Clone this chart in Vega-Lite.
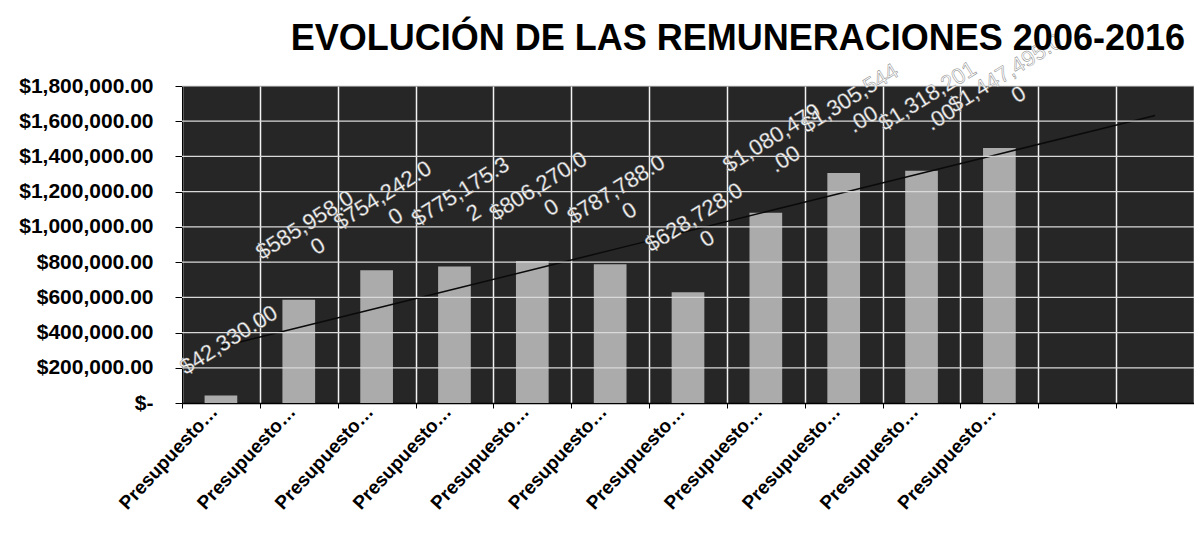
{
  "$schema": "https://vega.github.io/schema/vega-lite/v6.json",
  "width": 1012,
  "height": 317,
  "autosize": {"type": "none"},
  "padding": {"left": 182, "top": 86, "right": 0, "bottom": 139},
  "background": "white",
  "config": {
    "view": {"fill": "#262626", "stroke": null},
    "font": "Liberation Sans",
    "axisY": {
      "title": null,
      "tickCount": 9,
      "grid": false,
      "domainColor": "black",
      "tickColor": "black",
      "tickSize": 7,
      "labelPadding": 22,
      "labelFont": "Liberation Sans",
      "labelFontWeight": "bold",
      "labelFontSize": 21,
      "labelColor": "black",
      "labelOverlap": false,
      "labelExpr": "datum.value == 0 ? '$-' : '$' + format(datum.value, ',.2f')"
    }
  },
  "title": {
    "text": "EVOLUCIÓN DE LAS REMUNERACIONES 2006-2016",
    "anchor": "end",
    "frame": "group",
    "fontSize": 36,
    "fontWeight": "bold",
    "font": "Liberation Sans",
    "color": "black",
    "offset": -56,
    "baseline": "alphabetic",
    "dx": -9
  },
  "datasets": {
    "rem": [
      {"cat": "Presupuesto 2006", "value": 42330.00, "label": "$42,330.00", "trend": 319211},
      {"cat": "Presupuesto 2007", "value": 585958.00, "label": "$585,958.0\n0", "trend": 428682},
      {"cat": "Presupuesto 2008", "value": 754242.00, "label": "$754,242.0\n0", "trend": 538153},
      {"cat": "Presupuesto 2009", "value": 775175.32, "label": "$775,175.3\n2", "trend": 647623},
      {"cat": "Presupuesto 2010", "value": 806270.00, "label": "$806,270.0\n0", "trend": 757094},
      {"cat": "Presupuesto 2011", "value": 787788.00, "label": "$787,788.0\n0", "trend": 866565},
      {"cat": "Presupuesto 2012", "value": 628728.00, "label": "$628,728.0\n0", "trend": 976035},
      {"cat": "Presupuesto 2013", "value": 1080479.00, "label": "$1,080,479\n.00", "trend": 1085506},
      {"cat": "Presupuesto 2014", "value": 1305544.00, "label": "$1,305,544\n.00", "trend": 1194976},
      {"cat": "Presupuesto 2015", "value": 1318201.00, "label": "$1,318,201\n.00", "trend": 1304447},
      {"cat": "Presupuesto 2016", "value": 1447495.00, "label": "$1,447,495.0\n0", "trend": 1413917},
      {"cat": "vacío 1", "value": null, "label": null, "trend": 1523388},
      {"cat": "vacío 2", "value": null, "label": null, "trend": 1632859}
    ],
    "gridlines": [
      {"g": 200000}, {"g": 400000}, {"g": 600000}, {"g": 800000}, {"g": 1000000},
      {"g": 1200000}, {"g": 1400000}, {"g": 1600000}, {"g": 1800000}
    ]
  },
  "layer": [
    {
      "data": {"name": "rem"},
      "mark": {"type": "bar", "color": "#ababab", "width": {"band": 0.42}},
      "encoding": {
        "x": {
          "field": "cat", "type": "nominal", "sort": null,
          "scale": {"paddingInner": 0, "paddingOuter": 0},
          "axis": {
            "title": null, "tickBand": "extent", "grid": true, "gridColor": "#f2f2f2", "gridWidth": 1.5,
            "domainColor": "black", "domainWidth": 1.5, "tickColor": "black", "tickSize": 5,
            "labelAngle": -47, "labelAlign": "right", "labelBaseline": "middle", "labelPadding": 0, "labelOffset": -7,
            "labelFont": "Liberation Sans", "labelFontWeight": "bold", "labelFontSize": 19, "labelColor": "black",
            "labelExpr": "isString(datum.value) && indexof(datum.value, 'Presupuesto') == 0 ? 'Presupuesto…' : ''"
          }
        },
        "y": {"field": "value", "type": "quantitative", "title": null, "scale": {"domain": [0, 1800000], "nice": false}}
      }
    },
    {
      "data": {"name": "rem"},
      "mark": {"type": "line", "color": "#0a0a0a", "strokeWidth": 1.5},
      "encoding": {
        "x": {
          "field": "cat", "type": "nominal", "sort": null,
          "axis": {
            "title": null, "tickBand": "extent", "grid": true, "gridColor": "#f2f2f2", "gridWidth": 1.5,
            "domainColor": "black", "domainWidth": 1.5, "tickColor": "black", "tickSize": 5,
            "labelAngle": -47, "labelAlign": "right", "labelBaseline": "middle", "labelPadding": 0, "labelOffset": -7,
            "labelFont": "Liberation Sans", "labelFontWeight": "bold", "labelFontSize": 19, "labelColor": "black",
            "labelExpr": "isString(datum.value) && indexof(datum.value, 'Presupuesto') == 0 ? 'Presupuesto…' : ''"
          }
        },
        "y": {"field": "trend", "type": "quantitative", "title": null}
      }
    },
    {
      "data": {"name": "rem"},
      "transform": [{"filter": "isString(datum.label) && indexof(datum.label, '\\n') < 0"}],
      "mark": {
        "type": "text", "color": "white", "stroke": "#8a8a8a", "strokeWidth": 0.5,
        "font": "Liberation Sans", "fontSize": 22, "angle": 328, "align": "center", "baseline": "middle",
        "radius": 56, "theta": 0.14
      },
      "encoding": {
        "x": {
          "field": "cat", "type": "nominal", "sort": null,
          "axis": {
            "title": null, "tickBand": "extent", "grid": true, "gridColor": "#f2f2f2", "gridWidth": 1.5,
            "domainColor": "black", "domainWidth": 1.5, "tickColor": "black", "tickSize": 5,
            "labelAngle": -47, "labelAlign": "right", "labelBaseline": "middle", "labelPadding": 0, "labelOffset": -7,
            "labelFont": "Liberation Sans", "labelFontWeight": "bold", "labelFontSize": 19, "labelColor": "black",
            "labelExpr": "isString(datum.value) && indexof(datum.value, 'Presupuesto') == 0 ? 'Presupuesto…' : ''"
          }
        },
        "y": {"field": "value", "type": "quantitative", "title": null},
        "text": {"field": "label"}
      }
    },
    {
      "data": {"name": "rem"},
      "transform": [{"filter": "isString(datum.label) && indexof(datum.label, '\\n') >= 0"}],
      "mark": {
        "type": "text", "color": "white", "stroke": "#8a8a8a", "strokeWidth": 0.5,
        "font": "Liberation Sans", "fontSize": 22, "angle": 328, "align": "center", "baseline": "middle",
        "lineBreak": "\n", "lineHeight": 25, "radius": 75, "theta": 0.08
      },
      "encoding": {
        "x": {
          "field": "cat", "type": "nominal", "sort": null,
          "axis": {
            "title": null, "tickBand": "extent", "grid": true, "gridColor": "#f2f2f2", "gridWidth": 1.5,
            "domainColor": "black", "domainWidth": 1.5, "tickColor": "black", "tickSize": 5,
            "labelAngle": -47, "labelAlign": "right", "labelBaseline": "middle", "labelPadding": 0, "labelOffset": -7,
            "labelFont": "Liberation Sans", "labelFontWeight": "bold", "labelFontSize": 19, "labelColor": "black",
            "labelExpr": "isString(datum.value) && indexof(datum.value, 'Presupuesto') == 0 ? 'Presupuesto…' : ''"
          }
        },
        "y": {"field": "value", "type": "quantitative", "title": null},
        "text": {"field": "label"}
      }
    },
    {
      "data": {"name": "gridlines"},
      "mark": {"type": "rule", "color": "#d9d9d9", "strokeWidth": 1.2},
      "encoding": {
        "y": {"field": "g", "type": "quantitative", "title": null}
      }
    }
  ]
}
